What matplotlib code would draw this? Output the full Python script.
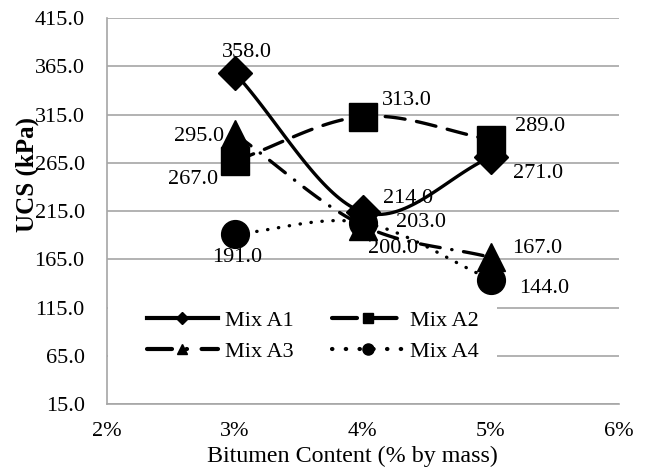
import numpy as np
import matplotlib.pyplot as plt
from matplotlib.lines import Line2D
from matplotlib.patches import Rectangle

plt.rcParams['font.family'] = ['Liberation Serif', 'DejaVu Serif']

x_pct = [3, 4, 5]
mix_a1 = [358.0, 214.0, 271.0]
mix_a2 = [267.0, 313.0, 289.0]
mix_a3 = [295.0, 200.0, 167.0]
mix_a4 = [191.0, 203.0, 144.0]
names = ["Mix A1", "Mix A2", "Mix A3", "Mix A4"]


def smooth(xs, ys, n=40):
    # Catmull-Rom style smoothing like Excel's "smoothed line"
    xs = np.asarray(xs, float)
    ys = np.asarray(ys, float)
    px = np.concatenate([[2 * xs[0] - xs[1]], xs, [2 * xs[-1] - xs[-2]]])
    py = np.concatenate([[2 * ys[0] - ys[1]], ys, [2 * ys[-1] - ys[-2]]])
    outx, outy = [], []
    t = np.linspace(0, 1, n)
    for i in range(1, len(px) - 2):
        for p, out in ((px, outx), (py, outy)):
            p0, p1, p2, p3 = p[i - 1], p[i], p[i + 1], p[i + 2]
            out.extend(0.5 * ((2 * p1) + (-p0 + p2) * t
                              + (2 * p0 - 5 * p1 + 4 * p2 - p3) * t ** 2
                              + (-p0 + 3 * p1 - 3 * p2 + p3) * t ** 3))
    return outx, outy


fig = plt.figure(figsize=(6.48, 4.70), dpi=100)
ax = fig.add_axes([0.165, 0.1404, 0.790, 0.821])

styles = [
    dict(ls='-', marker='D', ms=17, lms=6),
    dict(ls=(0, (6, 3.5)), marker='s', ms=20, lms=7),
    dict(ls=(0, (6, 3.5, 0.1, 3.5)), marker='^', ms=20, lms=7),
    dict(ls=(0, (0.1, 3.2)), marker='o', ms=20, lms=8),
]
series = [mix_a1, mix_a2, mix_a3, mix_a4]
lw = 2.4

for ys, st in zip(series, styles):
    sx, sy = smooth(x_pct, ys)
    ax.plot(sx, sy, color='black', lw=lw, ls=st['ls'], dash_capstyle='round',
            solid_capstyle='butt', zorder=3)
    ax.plot(x_pct, ys, ls='none', marker=st['marker'], ms=st['ms'],
            color='black', zorder=4)

fs = 16
# data labels: value and label centre offset from the point, in pixels
labels = [
    (3, 358.0, 12, 21), (4, 214.0, 45, 14), (5, 271.0, 47, -16),
    (3, 267.0, -42, -19), (4, 313.0, 44, 16), (5, 289.0, 49, 13),
    (3, 295.0, -36, -3), (4, 200.0, 30, -23), (5, 167.0, 46, 9),
    (3, 191.0, 2, -23), (4, 203.0, 58, 0), (5, 144.0, 53, -9),
]
for lx, ly, dx, dy in labels:
    ax.annotate(f"{ly:.1f}", (lx, ly), xytext=(dx, dy), textcoords='offset pixels',
                ha='center', va='center', fontsize=fs, zorder=5)

ax.set_xlim(2, 6)
ax.set_ylim(15, 415)
ax.set_xticks([2, 3, 4, 5, 6])
ax.set_xticklabels([f"{v}%" for v in [2, 3, 4, 5, 6]])
ax.set_yticks(np.arange(15, 416, 50))
ax.set_yticklabels([f"{v:.1f}" for v in np.arange(15, 416, 50)])
ax.tick_params(axis='y', length=0, labelsize=fs, pad=16)
ax.tick_params(axis='x', length=0, labelsize=fs, pad=13)
ax.grid(axis='y', color='#a6a6a6', lw=1.2, zorder=0)
ax.set_axisbelow(True)
for s in ['top', 'right']:
    ax.spines[s].set_visible(False)
for s in ['bottom', 'left']:
    ax.spines[s].set_color('#a6a6a6')
    ax.spines[s].set_linewidth(1.2)

ax.set_xlabel("Bitumen Content (% by mass)", fontsize=17.3)
ax.xaxis.set_label_coords(0.479, -0.108)
ax.set_ylabel("UCS (kPa)", fontsize=18, fontweight='bold')
ax.yaxis.set_label_coords(-0.133, 0.596)

# white area behind the legend, as in the original
ax.add_patch(Rectangle((0.002, 0.083), 0.76, 0.192, transform=ax.transAxes,
                       facecolor='white', edgecolor='none', zorder=2))

handles = [Line2D([], [], color='black', lw=lw + 0.6, ls=st['ls'], marker=st['marker'],
                  ms=st['lms'], dash_capstyle='round') for st in styles]
order = [0, 2, 1, 3]
leg = ax.legend([handles[i] for i in order], [names[i] for i in order], ncol=2,
                loc='center left', bbox_to_anchor=(0.078, 0.176),
                frameon=False, fontsize=fs, handlelength=3.2, columnspacing=1.76,
                handletextpad=0.3, borderpad=0, borderaxespad=0, labelspacing=0.5)
leg.set_zorder(6)

fig.savefig("out.png", dpi=100)
